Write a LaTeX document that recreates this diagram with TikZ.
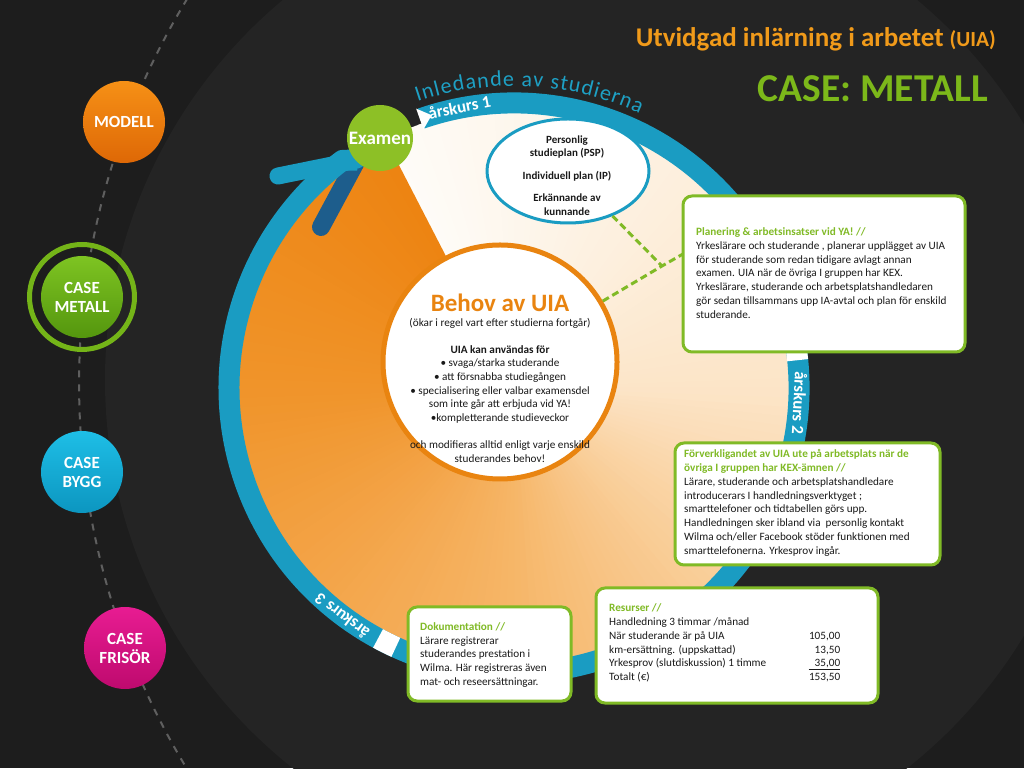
\documentclass[tikz,border=0pt]{standalone}
\usepackage{fontspec}
\setmainfont{Carlito}
\usetikzlibrary{calc,decorations.text,shapes.geometric}
\definecolor{bg}{RGB}{29,29,29}
\definecolor{bgtwo}{RGB}{36,36,36}
\definecolor{dashgray}{RGB}{95,95,95}
\definecolor{fA}{RGB}{254,252,248}
\definecolor{fB}{RGB}{252,229,200}
\definecolor{fC}{RGB}{246,182,104}
\definecolor{fD}{RGB}{243,164,72}
\definecolor{fE}{RGB}{240,148,42}
\definecolor{fF}{RGB}{237,132,18}
\definecolor{ringblue}{RGB}{26,156,194}
\definecolor{ringdark}{RGB}{29,93,140}
\definecolor{inlblue}{RGB}{30,160,196}
\definecolor{boxgreen}{RGB}{128,186,38}
\definecolor{textdark}{RGB}{25,25,25}
\definecolor{behovor}{RGB}{233,132,16}
\definecolor{examgreen}{RGB}{141,192,38}
\definecolor{titleor}{RGB}{240,154,26}
\definecolor{casegreen}{RGB}{124,184,26}
\definecolor{modT}{RGB}{246,144,22}
\definecolor{modB}{RGB}{222,104,6}
\definecolor{metT}{RGB}{126,196,34}
\definecolor{metB}{RGB}{84,150,14}
\definecolor{metring}{RGB}{116,180,24}
\definecolor{bygT}{RGB}{30,190,230}
\definecolor{bygB}{RGB}{12,150,192}
\definecolor{friT}{RGB}{232,28,146}
\definecolor{friB}{RGB}{190,10,110}
\newcommand\inlfont{\fontsize{22}{22}\selectfont}
\begin{document}
\begin{tikzpicture}[x=1pt,y=1pt,
  every node/.style={inner sep=0pt},
  band/.style={line width=21pt, draw=ringblue},
  lbl/.style={circle, minimum size=82pt, text=white, font=\fontsize{17}{19}\selectfont\bfseries, align=center},
  box/.style={draw=boxgreen, line width=3pt, fill=white, rounded corners=9pt},
  boxtext/.style={align=left, anchor=west, font=\fontsize{11.2}{13.8}\selectfont, text=textdark},
  gdash/.style={draw=boxgreen, line width=3pt, dash pattern=on 7pt off 4pt},
  ringlabel/.style={text=white, font=\fontsize{17}{17}\selectfont\bfseries}
]
\useasboundingbox (0,0) rectangle (1024,768);
\fill[bg] (0,0) rectangle (1024,768);
\begin{scope}
\clip (0,0) rectangle (1024,768);
\fill[bgtwo] (600,388) circle[radius=495];
\end{scope}

% dashed guide curve
\coordinate (DC) at (819,384);
\draw[dashgray, line width=2pt, dash pattern=on 7pt off 7pt] ($(DC)+(148.6:740)$) arc[start angle=148.6, end angle=211.4, radius=740];

% left circles
\node[lbl, top color=modT, bottom color=modB] (modell) at (124,646) {MODELL};
\draw[metring, line width=5pt] (82,471) circle[radius=52.5];
\node[lbl, top color=metT, bottom color=metB] (metall) at (82,471) {CASE\\METALL};
\node[lbl, top color=bygT, bottom color=bygB] (bygg) at (82,296) {CASE\\BYGG};
\node[lbl, top color=friT, bottom color=friB] (frisor) at (125,120) {CASE\\FRISÖR};

% conic fill
\coordinate (C) at (514,380);
\foreach \da/\db/\ca/\cb in {0/118/fA/fB,118/208/fB/fC,208/254/fC/fD,254/298/fD/fE,298/360/fE/fF}{
  \pgfmathtruncatemacro\nn{(\db-\da)/2}
  \foreach \k in {1,...,\nn}{
    \pgfmathsetmacro\sA{118-\da-2*(\k-1)}
    \pgfmathsetmacro\sB{\sA-2.7}
    \pgfmathtruncatemacro\pc{round(100*(\k-0.5)/\nn)}
    \fill[\cb!\pc!\ca] (C) -- ($(C)+(\sA:280)$) arc[start angle=\sA, end angle=\sB, radius=280] -- cycle;
  }
}

% arrow and ring
\coordinate (T) at (357,608);
\coordinate (B1) at (278,592);
\coordinate (B2) at (321,541);
\draw[ringdark, line width=18pt, line cap=round] (T) -- (B2);
\draw[band, line join=round] ($(C)+(109:285)$) arc[start angle=109, end angle=-233, radius=285] -- (T);
\draw[ringblue, line width=17pt, line cap=round] (T) -- (B1);
\fill[white] ($(C)+(109.3:296)$) -- ($(C)+(106.8:285)$) -- ($(C)+(109.3:274)$) -- cycle;
\draw[white, line width=21pt] ($(C)+(-114.5:285)$) arc[start angle=-114.5, end angle=-118.5, radius=285];
\draw[white, line width=21pt] ($(C)+(9:285)$) arc[start angle=9, end angle=5.6, radius=285];

% ring labels
\node[ringlabel, rotate=11] (ak1) at ($(C)+(101:286)$) {årskurs 1};
\node[ringlabel, rotate=-93] (ak2) at ($(C)+(-3:286)$) {årskurs 2};
\node[ringlabel, rotate=143] (ak3) at ($(C)+(-127:286)$) {årskurs 3};
\path[decorate, decoration={text along path, text={|\inlfont|Inledande av studierna}, text align={fit to path}, text color=inlblue}] ($(C)+(108.6:302)$) arc[start angle=108.6, end angle=65.4, radius=302];

% Examen
\node[circle, fill=examgreen, minimum size=66pt, text=white, font=\fontsize{19}{19}\selectfont\bfseries] (exam) at (380,630) {Examen};

% Behov circle
\node[circle, draw=behovor, line width=5pt, fill=white, minimum size=234pt] (behov) at (500,406) {};
\node[text=behovor, font=\fontsize{25}{25}\selectfont\bfseries, anchor=base] (behovt) at (500,456) {Behov av UIA};
\node[align=center, font=\fontsize{11.2}{13.6}\selectfont, text=textdark] (behovb) at (500,378) {(ökar i regel vart efter studierna fortgår)\\[13.6pt]
\textbf{UIA kan användas för}\\
• svaga/starka studerande\\
• att försnabba studiegången\\
• specialisering eller valbar examensdel\\
som inte går att erbjuda vid YA!\\
•kompletterande studieveckor\\[13.6pt]
och modifieras alltid enligt varje enskild\\
studerandes behov!};

% PSP ellipse
\node[ellipse, draw=ringblue, line width=3pt, fill=white, minimum width=162pt, minimum height=104pt] (psp) at (568,597) {};
\node[align=center, font=\fontsize{11}{13.5}\selectfont\bfseries, text=textdark] (pspt) at (567,592.5) {Personlig\\ studieplan (PSP)\\[9pt] Individuell plan (IP)\\[9pt] Erkännande av\\ kunnande};

% connectors
\coordinate (J) at (662,502);
\coordinate (Jb) at (683,514);
\draw[gdash] (psp) -- (J);
\draw[gdash] (behov) -- (J) -- (Jb);

% boxes
\node[box, minimum width=282pt, minimum height=156pt] (plan) at (824,494) {};
\node[boxtext] (plant) at (696,495) {\textcolor{boxgreen}{\textbf{Planering \& arbetsinsatser vid YA! //}}\\
Yrkeslärare och studerande , planerar upplägget av UIA\\
för studerande som redan tidigare avlagt annan\\
examen. UIA när de övriga I gruppen har KEX.\\
Yrkeslärare, studerande och arbetsplatshandledaren\\
gör sedan tillsammans upp IA-avtal och plan för enskild\\
studerande.};

\node[box, minimum width=265pt, minimum height=122pt] (forv) at (807.5,264) {};
\node[boxtext] (forvt) at (684,265) {\textcolor{boxgreen}{\textbf{Förverkligandet av UIA ute på arbetsplats när de}}\\
\textcolor{boxgreen}{\textbf{övriga I gruppen har KEX-ämnen //}}\\
Lärare, studerande och arbetsplatshandledare\\
introducerars I handledningsverktyget ;\\
smarttelefoner och tidtabellen görs upp.\\
Handledningen sker ibland via\ \ personlig kontakt\\
Wilma och/eller Facebook stöder funktionen med\\
smarttelefonerna. Yrkesprov ingår.};

\node[box, minimum width=163pt, minimum height=94pt] (dok) at (489.5,114) {};
\node[boxtext] (dokt) at (420,113) {\textcolor{boxgreen}{\textbf{Dokumentation //}}\\
Lärare registrerar\\
studerandes prestation i\\
Wilma. Här registreras även\\
mat- och reseersättningar.};

\node[box, minimum width=282pt, minimum height=115pt] (res) at (737,122.5) {};
\node[boxtext] (rest) at (609,125) {\textcolor{boxgreen}{\textbf{Resurser //}}\\
Handledning 3 timmar /månad\\
\makebox[231pt][l]{När studerande är på UIA\hfill 105,00}\\
\makebox[231pt][l]{km-ersättning. (uppskattad)\hfill 13,50}\\
\makebox[231pt][l]{Yrkesprov (slutdiskussion) 1 timme\hfill\underline{\hspace{6pt}35,00}}\\
\makebox[231pt][l]{Totalt (€)\hfill 153,50}};

% titles
\node[anchor=base east, text=titleor, font=\fontsize{27}{27}\selectfont\bfseries] (title) at (996,721) {Utvidgad inlärning i arbetet {\fontsize{21.5}{21.5}\selectfont(UIA)}};
\node[anchor=base east, text=casegreen, font=\fontsize{39.5}{39.5}\selectfont\bfseries] (case) at (988,666) {CASE: METALL};
\end{tikzpicture}
\end{document}
